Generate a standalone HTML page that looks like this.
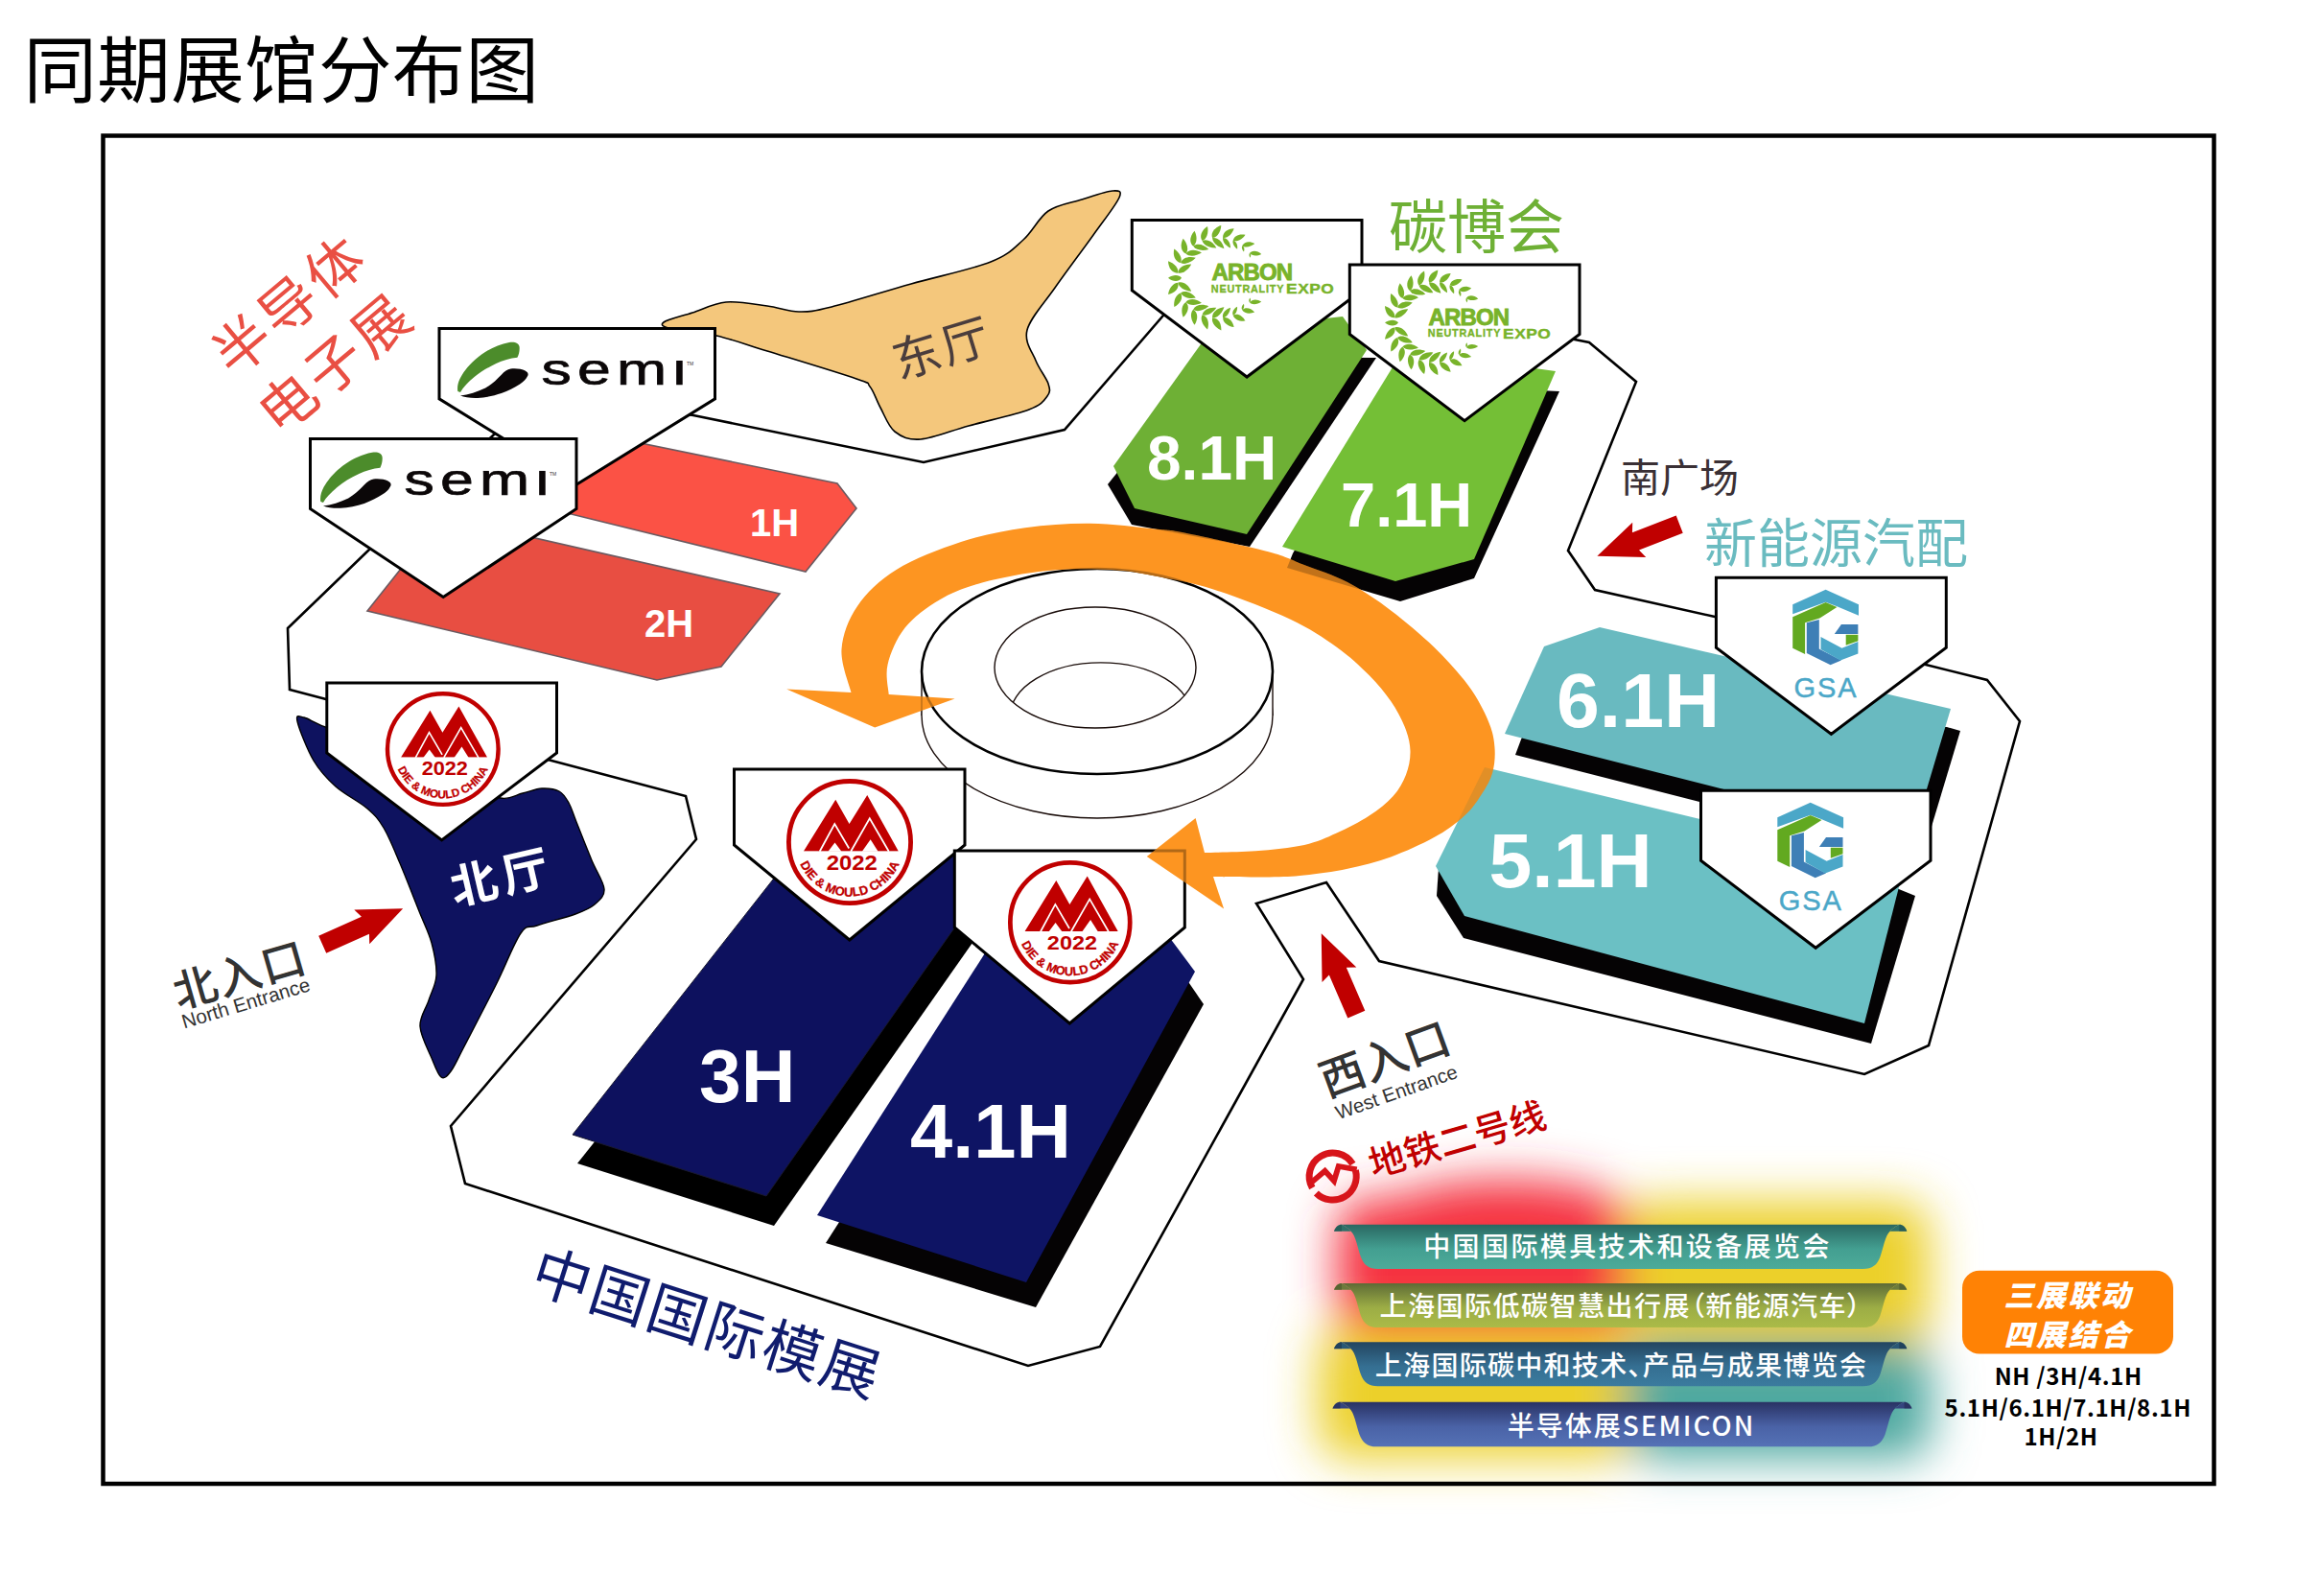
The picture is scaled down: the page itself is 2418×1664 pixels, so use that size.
<!DOCTYPE html>
<html lang="zh-CN"><head><meta charset="utf-8"><title>同期展馆分布图</title>
<style>
html,body{margin:0;padding:0;background:#fff;}
body{width:2418px;height:1664px;overflow:hidden;position:relative;font-family:"Liberation Sans","Noto Sans CJK SC",sans-serif;}
svg{position:absolute;left:0;top:0;display:block}
text{white-space:pre}
.cjk{font-family:"Liberation Sans","Noto Sans CJK SC",sans-serif}
.shs{font-family:"Noto Sans CJK SC","Liberation Sans",sans-serif}
.lat{font-family:"Liberation Sans",sans-serif}
</style></head><body>
<svg width="2418" height="1664" viewBox="0 0 2418 1664">
<defs>
<clipPath id="semiclip"><rect x="95" y="33.3" width="180" height="30"/></clipPath>
<filter id="blur" x="-30%" y="-30%" width="160%" height="160%"><feGaussianBlur stdDeviation="24"/></filter>
<linearGradient id="rb1" x1="0" y1="0" x2="0" y2="1"><stop offset="0" stop-color="#2a6862"/><stop offset="0.55" stop-color="#439f91"/><stop offset="1" stop-color="#4dab99"/></linearGradient>
<linearGradient id="rb2" x1="0" y1="0" x2="0" y2="1"><stop offset="0" stop-color="#5e6b36"/><stop offset="0.55" stop-color="#9cad45"/><stop offset="1" stop-color="#abbb48"/></linearGradient>
<linearGradient id="rb3" x1="0" y1="0" x2="0" y2="1"><stop offset="0" stop-color="#234560"/><stop offset="0.55" stop-color="#356f92"/><stop offset="1" stop-color="#3b7b9e"/></linearGradient>
<linearGradient id="rb4" x1="0" y1="0" x2="0" y2="1"><stop offset="0" stop-color="#293263"/><stop offset="0.55" stop-color="#4a62a6"/><stop offset="1" stop-color="#5572b6"/></linearGradient>
</defs>
<rect width="2418" height="1664" fill="#fff"/>

<text x="24.5" y="101" class="cjk" font-size="76.5" letter-spacing="0.35" fill="#000">同期展馆分布图</text>
<g filter="url(#blur)"><rect x="1394" y="1250" width="310" height="140" rx="30" fill="#f5333f"/><ellipse cx="1570" cy="1262" rx="120" ry="32" fill="#f5333f"/><rect x="1695" y="1252" width="317" height="153" rx="30" fill="#ecd02c"/><rect x="1374" y="1385" width="330" height="136" rx="30" fill="#ecd02c"/><rect x="1695" y="1400" width="319" height="121" rx="30" fill="#4fa9a0"/><rect x="1420" y="1300" width="560" height="190" fill="#e6b040" opacity="0.0"/></g>
<rect x="107.5" y="141.5" width="2201" height="1405.5" fill="none" stroke="#000" stroke-width="4.5"/>
<polygon points="300.0,655.0 385.0,573.0 513.0,455.0 560.0,410.0 723.0,433.0 963.0,482.0 1110.0,448.0 1212.0,330.0 1260.0,275.0 1642.0,354.0 1657.0,357.0 1706.0,398.0 1635.0,574.0 1663.0,615.0 1788.0,643.0 2008.0,693.0 2072.0,709.0 2106.0,752.0 2011.0,1090.0 1944.0,1120.0 1438.0,1002.0 1383.0,920.0 1310.0,942.0 1359.0,1021.0 1147.0,1404.0 1072.0,1424.0 485.0,1234.0 470.0,1174.0 726.0,875.0 715.0,830.0 575.0,793.0 340.0,729.0 302.0,719.0" fill="#fff" stroke="#000" stroke-width="2.6" stroke-linejoin="miter"/>
<path d="M692.0,336.0 C695.7,333.2 711.2,329.5 722.0,326.0 C732.8,322.5 744.0,316.2 757.0,315.0 C770.0,313.8 787.3,317.3 800.0,319.0 C812.7,320.7 821.8,324.8 833.0,325.0 C844.2,325.2 847.5,324.8 867.0,320.0 C886.5,315.2 922.3,303.8 950.0,296.0 C977.7,288.2 1013.5,280.7 1033.0,273.0 C1052.5,265.3 1057.0,258.8 1067.0,250.0 C1077.0,241.2 1082.8,227.0 1093.0,220.0 C1103.2,213.0 1116.8,211.5 1128.0,208.0 C1139.2,204.5 1153.5,199.3 1160.0,199.0 C1166.5,198.7 1170.3,198.3 1167.0,206.0 C1163.7,213.7 1151.2,229.3 1140.0,245.0 C1128.8,260.7 1111.5,283.5 1100.0,300.0 C1088.5,316.5 1074.3,331.3 1071.0,344.0 C1067.7,356.7 1076.3,366.7 1080.0,376.0 C1083.7,385.3 1091.0,393.8 1093.0,400.0 C1095.0,406.2 1095.3,408.5 1092.0,413.0 C1088.7,417.5 1086.7,421.8 1073.0,427.0 C1059.3,432.2 1028.8,438.8 1010.0,444.0 C991.2,449.2 972.8,457.0 960.0,458.0 C947.2,459.0 940.0,455.5 933.0,450.0 C926.0,444.5 922.3,432.8 918.0,425.0 C913.7,417.2 911.2,408.0 907.0,403.0 C902.8,398.0 910.8,401.2 893.0,395.0 C875.2,388.8 824.3,373.5 800.0,366.0 C775.7,358.5 763.7,353.8 747.0,350.0 C730.3,346.2 709.2,345.3 700.0,343.0 C690.8,340.7 688.3,338.8 692.0,336.0Z" fill="#f4c77c" stroke="#000" stroke-width="1.6"/>
<text transform="translate(983,364) rotate(-17)" class="cjk" font-size="50" letter-spacing="3" text-anchor="middle" dominant-baseline="central" fill="#4a3d3d">东厅</text>
<polygon points="580.0,444.0 873.0,504.0 893.0,530.0 840.0,596.0 575.0,531.0" fill="#fb5245" stroke="#6b5a60" stroke-width="1.6"/>
<polygon points="461.0,539.0 813.0,619.0 752.0,695.0 685.0,709.0 383.0,637.0" fill="#e84e42" stroke="#6b5a60" stroke-width="1.6"/>
<text x="782" y="558.5" class="lat" font-weight="bold" font-size="40" fill="#fff">1H</text>
<text x="672" y="663.5" class="lat" font-weight="bold" font-size="40" fill="#fff">2H</text>
<polygon points="1262.0,372.0 1435.0,373.0 1303.0,570.0 1180.0,547.0 1155.0,505.0" fill="#050304"/>
<polygon points="1262.0,345.0 1400.0,330.0 1425.0,365.0 1300.0,557.0 1183.0,530.0 1161.0,486.0" fill="#6eb035"/>
<polygon points="1450.0,400.0 1626.0,408.0 1537.0,603.0 1460.0,627.0 1342.0,592.0 1348.0,577.0" fill="#050304"/>
<polygon points="1463.0,365.0 1622.0,387.0 1537.0,583.0 1455.0,606.0 1337.0,570.0" fill="#74bf36"/>
<text x="1196" y="500" class="lat" font-weight="bold" font-size="64" fill="#fff">8.1H</text>
<text x="1398" y="549" class="lat" font-weight="bold" font-size="65" fill="#fff">7.1H</text>
<polygon points="1600.0,740.0 2030.0,758.0 2044.0,762.0 2004.0,895.0 1580.0,787.0 1586.0,771.0" fill="#050304"/>
<polygon points="1610.0,674.0 1668.0,654.0 2034.0,739.0 1994.0,873.0 1569.0,765.0" fill="#69bac0"/>
<polygon points="1500.0,905.0 1975.0,925.0 1997.0,934.0 1951.0,1088.0 1526.0,978.0 1498.0,934.0" fill="#050304"/>
<polygon points="1548.0,800.0 1985.0,905.0 1944.0,1067.0 1527.0,955.0 1497.0,903.0" fill="#6bc0c4"/>
<text x="1623" y="758" class="lat" font-weight="bold" font-size="80.5" fill="#fff">6.1H</text>
<text x="1552.5" y="925" class="lat" font-weight="bold" font-size="80.5" fill="#fff">5.1H</text>
<path d="M310.0,752.0 C308.3,744.5 311.2,746.7 317.0,748.0 C322.8,749.3 327.8,754.7 345.0,760.0 C362.2,765.3 395.8,770.8 420.0,780.0 C444.2,789.2 473.0,806.3 490.0,815.0 C507.0,823.7 512.8,830.0 522.0,832.0 C531.2,834.0 537.8,828.7 545.0,827.0 C552.2,825.3 558.7,822.3 565.0,822.0 C571.3,821.7 578.3,822.5 583.0,825.0 C587.7,827.5 590.0,831.7 593.0,837.0 C596.0,842.3 597.0,847.0 601.0,857.0 C605.0,867.0 612.2,885.3 617.0,897.0 C621.8,908.7 629.5,919.3 630.0,927.0 C630.5,934.7 625.0,938.7 620.0,943.0 C615.0,947.3 610.0,949.3 600.0,953.0 C590.0,956.7 569.5,961.7 560.0,965.0 C550.5,968.3 550.2,962.7 543.0,973.0 C535.8,983.3 527.0,1007.0 517.0,1027.0 C507.0,1047.0 490.8,1078.0 483.0,1093.0 C475.2,1108.0 473.8,1112.0 470.0,1117.0 C466.2,1122.0 463.3,1125.3 460.0,1123.0 C456.7,1120.7 453.7,1111.8 450.0,1103.0 C446.3,1094.2 438.5,1080.0 438.0,1070.0 C437.5,1060.0 444.2,1051.8 447.0,1043.0 C449.8,1034.2 454.5,1027.0 455.0,1017.0 C455.5,1007.0 453.0,994.2 450.0,983.0 C447.0,971.8 442.5,963.8 437.0,950.0 C431.5,936.2 423.2,914.5 417.0,900.0 C410.8,885.5 405.7,872.5 400.0,863.0 C394.3,853.5 391.3,850.2 383.0,843.0 C374.7,835.8 359.3,828.3 350.0,820.0 C340.7,811.7 333.7,804.3 327.0,793.0 C320.3,781.7 311.7,759.5 310.0,752.0Z" fill="#0e125f" stroke="#000" stroke-width="1.4"/>
<text transform="translate(524,915) rotate(-13)" class="cjk" font-weight="bold" font-size="49" letter-spacing="6" text-anchor="middle" dominant-baseline="central" fill="#fff">北厅</text>
<polygon points="842.0,911.0 1056.0,923.0 807.0,1278.0 602.0,1213.0" fill="#000"/>
<polygon points="835.0,880.0 1048.0,892.0 799.0,1247.0 597.0,1183.0" fill="#0d115e" stroke="#1a1a30" stroke-width="1"/>
<polygon points="1064.0,979.0 1214.0,987.0 1255.0,1047.0 1080.0,1363.0 861.0,1296.0" fill="#050304"/>
<polygon points="1055.0,950.0 1205.0,958.0 1246.0,1013.0 1070.0,1337.0 852.0,1267.0" fill="#0e1464"/>
<text x="729" y="1148.5" class="lat" font-weight="bold" font-size="78.5" fill="#fff">3H</text>
<text x="949" y="1207" class="lat" font-weight="bold" font-size="79.5" fill="#fff">4.1H</text>
<ellipse cx="1144" cy="746" rx="183" ry="107" fill="#fff" stroke="#1a0d0a" stroke-width="1.4"/>
<rect x="961" y="700" width="366" height="46" fill="#fff"/>
<line x1="961" y1="700" x2="961" y2="746" stroke="#1a0d0a" stroke-width="1.4"/><line x1="1327" y1="700" x2="1327" y2="746" stroke="#1a0d0a" stroke-width="1.4"/>
<ellipse cx="1144" cy="700" rx="183" ry="107" fill="#fff" stroke="#000" stroke-width="2.6"/>
<clipPath id="hole"><ellipse cx="1142" cy="696" rx="105" ry="63"/></clipPath>
<ellipse cx="1147.8" cy="747.4" rx="94.9" ry="56.5" fill="none" stroke="#1a0d0a" stroke-width="1.4" clip-path="url(#hole)"/>
<ellipse cx="1142" cy="696" rx="105" ry="63" fill="none" stroke="#1a0d0a" stroke-width="1.4"/>
<polygon points="458.0,342.6 745.5,342.6 745.5,415.8 601.8,504.8 458.0,415.8" fill="#fff" stroke="#000" stroke-width="3" stroke-linejoin="miter"/>
<g transform="translate(458,342.6)"><path d="M19.3,65.4 C18,58 22,50 27.5,43 C35,33 52,18 73,14.3 C79,13.5 83,15 83.6,19 C84,23 83,27 81.4,30.2 C74,31 66,33 59.3,36.5 C50,41 43,45 37.2,50 C30,56 25,61 22,66.5 Z" fill="#4c8c2b"/><path d="M22,69.9 C30,69 40,66 48.2,61.9 C55,58 60,53 64.8,48.1 C68,44.5 71,42.5 74.5,41.9 C80,41.3 86,42 89.6,44 C92.5,45.5 93,47.5 92.4,49 C90.5,53 88,55.5 84.1,57.8 C78,61.5 72,65 64.8,67.4 C57,70 48,72 40,72.3 C33,72.5 26,71.8 22,69.9 Z" fill="#0b0708"/><g clip-path="url(#semiclip)"><text transform="translate(106.5,58.8) scale(1.36,1)" font-family="'Liberation Sans',sans-serif" font-size="46" letter-spacing="4.6" fill="#0b0708" stroke="#0b0708" stroke-width="0.7">semi</text></g><text x="258" y="38" font-family="'Liberation Sans',sans-serif" font-size="5" fill="#333">TM</text></g>
<polygon points="323.5,457.5 601.0,457.5 601.0,530.5 462.2,622.5 323.5,530.5" fill="#fff" stroke="#000" stroke-width="3" stroke-linejoin="miter"/>
<g transform="translate(315.0,457.5)"><path d="M19.3,65.4 C18,58 22,50 27.5,43 C35,33 52,18 73,14.3 C79,13.5 83,15 83.6,19 C84,23 83,27 81.4,30.2 C74,31 66,33 59.3,36.5 C50,41 43,45 37.2,50 C30,56 25,61 22,66.5 Z" fill="#4c8c2b"/><path d="M22,69.9 C30,69 40,66 48.2,61.9 C55,58 60,53 64.8,48.1 C68,44.5 71,42.5 74.5,41.9 C80,41.3 86,42 89.6,44 C92.5,45.5 93,47.5 92.4,49 C90.5,53 88,55.5 84.1,57.8 C78,61.5 72,65 64.8,67.4 C57,70 48,72 40,72.3 C33,72.5 26,71.8 22,69.9 Z" fill="#0b0708"/><g clip-path="url(#semiclip)"><text transform="translate(106.5,58.8) scale(1.36,1)" font-family="'Liberation Sans',sans-serif" font-size="46" letter-spacing="4.6" fill="#0b0708" stroke="#0b0708" stroke-width="0.7">semi</text></g><text x="258" y="38" font-family="'Liberation Sans',sans-serif" font-size="5" fill="#333">TM</text></g>
<polygon points="1180.3,229.4 1420.0,229.4 1420.0,302.8 1300.1,393.0 1180.3,302.8" fill="#fff" stroke="#000" stroke-width="3" stroke-linejoin="miter"/>
<g transform="translate(1180.3,229.4)"><g fill="#78b32a"><path transform="translate(48.01,55.18) rotate(-130.0)" d="M0,0 C3.20,-4.80 10.40,-4.48 16.00,0 C10.40,3.52 3.20,3.84 0,0Z"/><path transform="translate(48.01,55.18) rotate(-33.0)" d="M0,0 C3.30,-4.50 10.72,-4.20 16.50,0 C10.72,3.30 3.30,3.60 0,0Z"/><path transform="translate(50.76,44.57) rotate(-115.0)" d="M0,0 C3.20,-4.80 10.40,-4.48 16.00,0 C10.40,3.52 3.20,3.84 0,0Z"/><path transform="translate(50.76,44.57) rotate(-18.0)" d="M0,0 C3.30,-4.50 10.72,-4.20 16.50,0 C10.72,3.30 3.30,3.60 0,0Z"/><path transform="translate(56.16,35.02) rotate(-100.0)" d="M0,0 C3.20,-4.80 10.40,-4.48 16.00,0 C10.40,3.52 3.20,3.84 0,0Z"/><path transform="translate(56.16,35.02) rotate(-3.0)" d="M0,0 C3.30,-4.50 10.72,-4.20 16.50,0 C10.72,3.30 3.30,3.60 0,0Z"/><path transform="translate(63.84,27.20) rotate(-85.0)" d="M0,0 C3.20,-4.80 10.40,-4.48 16.00,0 C10.40,3.52 3.20,3.84 0,0Z"/><path transform="translate(63.84,27.20) rotate(12.0)" d="M0,0 C3.30,-4.50 10.72,-4.20 16.50,0 C10.72,3.30 3.30,3.60 0,0Z"/><path transform="translate(73.29,21.64) rotate(-70.0)" d="M0,0 C3.20,-4.80 10.40,-4.48 16.00,0 C10.40,3.52 3.20,3.84 0,0Z"/><path transform="translate(73.29,21.64) rotate(27.0)" d="M0,0 C3.30,-4.50 10.72,-4.20 16.50,0 C10.72,3.30 3.30,3.60 0,0Z"/><path transform="translate(83.85,18.71) rotate(-55.0)" d="M0,0 C3.20,-4.80 10.40,-4.48 16.00,0 C10.40,3.52 3.20,3.84 0,0Z"/><path transform="translate(83.85,18.71) rotate(42.0)" d="M0,0 C3.30,-4.50 10.72,-4.20 16.50,0 C10.72,3.30 3.30,3.60 0,0Z"/><path transform="translate(94.82,18.61) rotate(-40.0)" d="M0,0 C3.01,-4.51 9.78,-4.21 15.04,0 C9.78,3.31 3.01,3.61 0,0Z"/><path transform="translate(94.82,18.61) rotate(53.0)" d="M0,0 C2.64,-3.60 8.58,-3.36 13.20,0 C8.58,2.64 2.64,2.88 0,0Z"/><path transform="translate(105.43,21.36) rotate(-25.0)" d="M0,0 C2.82,-4.22 9.15,-3.94 14.08,0 C9.15,3.10 2.82,3.38 0,0Z"/><path transform="translate(105.43,21.36) rotate(64.0)" d="M0,0 C1.98,-2.70 6.44,-2.52 9.90,0 C6.44,1.98 1.98,2.16 0,0Z"/><path transform="translate(114.98,26.76) rotate(-10.0)" d="M0,0 C2.62,-3.94 8.53,-3.67 13.12,0 C8.53,2.89 2.62,3.15 0,0Z"/><path transform="translate(114.98,26.76) rotate(75.0)" d="M0,0 C1.32,-1.80 4.29,-1.68 6.60,0 C4.29,1.32 1.32,1.44 0,0Z"/><path transform="translate(122.80,34.44) rotate(5.0)" d="M0,0 C2.43,-3.65 7.90,-3.40 12.16,0 C7.90,2.68 2.43,2.92 0,0Z"/><path transform="translate(122.80,34.44) rotate(86.0)" d="M0,0 C0.99,-1.35 3.22,-1.26 4.95,0 C3.22,0.99 0.99,1.08 0,0Z"/><path transform="translate(48.01,65.42) rotate(-230.0)" d="M0,0 C3.20,-4.80 10.40,-4.48 16.00,0 C10.40,3.52 3.20,3.84 0,0Z"/><path transform="translate(48.01,65.42) rotate(-327.0)" d="M0,0 C3.30,-4.50 10.72,-4.20 16.50,0 C10.72,3.30 3.30,3.60 0,0Z"/><path transform="translate(50.76,76.03) rotate(-245.0)" d="M0,0 C3.20,-4.80 10.40,-4.48 16.00,0 C10.40,3.52 3.20,3.84 0,0Z"/><path transform="translate(50.76,76.03) rotate(-342.0)" d="M0,0 C3.30,-4.50 10.72,-4.20 16.50,0 C10.72,3.30 3.30,3.60 0,0Z"/><path transform="translate(56.16,85.58) rotate(-260.0)" d="M0,0 C3.20,-4.80 10.40,-4.48 16.00,0 C10.40,3.52 3.20,3.84 0,0Z"/><path transform="translate(56.16,85.58) rotate(-357.0)" d="M0,0 C3.30,-4.50 10.72,-4.20 16.50,0 C10.72,3.30 3.30,3.60 0,0Z"/><path transform="translate(63.84,93.40) rotate(-275.0)" d="M0,0 C3.20,-4.80 10.40,-4.48 16.00,0 C10.40,3.52 3.20,3.84 0,0Z"/><path transform="translate(63.84,93.40) rotate(-372.0)" d="M0,0 C3.30,-4.50 10.72,-4.20 16.50,0 C10.72,3.30 3.30,3.60 0,0Z"/><path transform="translate(73.29,98.96) rotate(-290.0)" d="M0,0 C3.20,-4.80 10.40,-4.48 16.00,0 C10.40,3.52 3.20,3.84 0,0Z"/><path transform="translate(73.29,98.96) rotate(-387.0)" d="M0,0 C3.30,-4.50 10.72,-4.20 16.50,0 C10.72,3.30 3.30,3.60 0,0Z"/><path transform="translate(83.85,101.89) rotate(-305.0)" d="M0,0 C3.20,-4.80 10.40,-4.48 16.00,0 C10.40,3.52 3.20,3.84 0,0Z"/><path transform="translate(83.85,101.89) rotate(-402.0)" d="M0,0 C3.30,-4.50 10.72,-4.20 16.50,0 C10.72,3.30 3.30,3.60 0,0Z"/><path transform="translate(94.82,101.99) rotate(-320.0)" d="M0,0 C3.01,-4.51 9.78,-4.21 15.04,0 C9.78,3.31 3.01,3.61 0,0Z"/><path transform="translate(94.82,101.99) rotate(-413.0)" d="M0,0 C2.64,-3.60 8.58,-3.36 13.20,0 C8.58,2.64 2.64,2.88 0,0Z"/><path transform="translate(105.43,99.24) rotate(-335.0)" d="M0,0 C2.82,-4.22 9.15,-3.94 14.08,0 C9.15,3.10 2.82,3.38 0,0Z"/><path transform="translate(105.43,99.24) rotate(-424.0)" d="M0,0 C1.98,-2.70 6.44,-2.52 9.90,0 C6.44,1.98 1.98,2.16 0,0Z"/><path transform="translate(114.98,93.84) rotate(-350.0)" d="M0,0 C2.62,-3.94 8.53,-3.67 13.12,0 C8.53,2.89 2.62,3.15 0,0Z"/><path transform="translate(114.98,93.84) rotate(-435.0)" d="M0,0 C1.32,-1.80 4.29,-1.68 6.60,0 C4.29,1.32 1.32,1.44 0,0Z"/><path transform="translate(122.80,86.16) rotate(-365.0)" d="M0,0 C2.43,-3.65 7.90,-3.40 12.16,0 C7.90,2.68 2.43,2.92 0,0Z"/><path transform="translate(122.80,86.16) rotate(-446.0)" d="M0,0 C0.99,-1.35 3.22,-1.26 4.95,0 C3.22,0.99 0.99,1.08 0,0Z"/><path transform="translate(51.70,60.30) rotate(180.0)" d="M0,0 C2.80,-4.50 9.10,-4.20 14.00,0 C9.10,3.30 2.80,3.60 0,0Z"/></g><text x="83.3" y="63" font-family="'Liberation Sans',sans-serif" font-weight="bold" fill="#78b32a" stroke="#78b32a" font-size="24" letter-spacing="-0.9" stroke-width="0.9">ARBON</text><text x="82.5" y="75.2" font-family="'Liberation Sans',sans-serif" font-weight="bold" fill="#78b32a" stroke="#78b32a" font-size="10.8" letter-spacing="0.8" stroke-width="0.35">NEUTRALITY</text><text transform="translate(160.8,76.6) scale(1.22,1)" font-family="'Liberation Sans',sans-serif" font-weight="bold" fill="#78b32a" stroke="#78b32a" font-size="14.2" letter-spacing="0.4" stroke-width="0.4">EXPO</text></g>
<polygon points="1407.3,276.0 1647.0,276.0 1647.0,348.5 1527.1,438.7 1407.3,348.5" fill="#fff" stroke="#000" stroke-width="3" stroke-linejoin="miter"/>
<g transform="translate(1406.3,276)"><g fill="#78b32a"><path transform="translate(48.01,55.18) rotate(-130.0)" d="M0,0 C3.20,-4.80 10.40,-4.48 16.00,0 C10.40,3.52 3.20,3.84 0,0Z"/><path transform="translate(48.01,55.18) rotate(-33.0)" d="M0,0 C3.30,-4.50 10.72,-4.20 16.50,0 C10.72,3.30 3.30,3.60 0,0Z"/><path transform="translate(50.76,44.57) rotate(-115.0)" d="M0,0 C3.20,-4.80 10.40,-4.48 16.00,0 C10.40,3.52 3.20,3.84 0,0Z"/><path transform="translate(50.76,44.57) rotate(-18.0)" d="M0,0 C3.30,-4.50 10.72,-4.20 16.50,0 C10.72,3.30 3.30,3.60 0,0Z"/><path transform="translate(56.16,35.02) rotate(-100.0)" d="M0,0 C3.20,-4.80 10.40,-4.48 16.00,0 C10.40,3.52 3.20,3.84 0,0Z"/><path transform="translate(56.16,35.02) rotate(-3.0)" d="M0,0 C3.30,-4.50 10.72,-4.20 16.50,0 C10.72,3.30 3.30,3.60 0,0Z"/><path transform="translate(63.84,27.20) rotate(-85.0)" d="M0,0 C3.20,-4.80 10.40,-4.48 16.00,0 C10.40,3.52 3.20,3.84 0,0Z"/><path transform="translate(63.84,27.20) rotate(12.0)" d="M0,0 C3.30,-4.50 10.72,-4.20 16.50,0 C10.72,3.30 3.30,3.60 0,0Z"/><path transform="translate(73.29,21.64) rotate(-70.0)" d="M0,0 C3.20,-4.80 10.40,-4.48 16.00,0 C10.40,3.52 3.20,3.84 0,0Z"/><path transform="translate(73.29,21.64) rotate(27.0)" d="M0,0 C3.30,-4.50 10.72,-4.20 16.50,0 C10.72,3.30 3.30,3.60 0,0Z"/><path transform="translate(83.85,18.71) rotate(-55.0)" d="M0,0 C3.20,-4.80 10.40,-4.48 16.00,0 C10.40,3.52 3.20,3.84 0,0Z"/><path transform="translate(83.85,18.71) rotate(42.0)" d="M0,0 C3.30,-4.50 10.72,-4.20 16.50,0 C10.72,3.30 3.30,3.60 0,0Z"/><path transform="translate(94.82,18.61) rotate(-40.0)" d="M0,0 C3.01,-4.51 9.78,-4.21 15.04,0 C9.78,3.31 3.01,3.61 0,0Z"/><path transform="translate(94.82,18.61) rotate(53.0)" d="M0,0 C2.64,-3.60 8.58,-3.36 13.20,0 C8.58,2.64 2.64,2.88 0,0Z"/><path transform="translate(105.43,21.36) rotate(-25.0)" d="M0,0 C2.82,-4.22 9.15,-3.94 14.08,0 C9.15,3.10 2.82,3.38 0,0Z"/><path transform="translate(105.43,21.36) rotate(64.0)" d="M0,0 C1.98,-2.70 6.44,-2.52 9.90,0 C6.44,1.98 1.98,2.16 0,0Z"/><path transform="translate(114.98,26.76) rotate(-10.0)" d="M0,0 C2.62,-3.94 8.53,-3.67 13.12,0 C8.53,2.89 2.62,3.15 0,0Z"/><path transform="translate(114.98,26.76) rotate(75.0)" d="M0,0 C1.32,-1.80 4.29,-1.68 6.60,0 C4.29,1.32 1.32,1.44 0,0Z"/><path transform="translate(122.80,34.44) rotate(5.0)" d="M0,0 C2.43,-3.65 7.90,-3.40 12.16,0 C7.90,2.68 2.43,2.92 0,0Z"/><path transform="translate(122.80,34.44) rotate(86.0)" d="M0,0 C0.99,-1.35 3.22,-1.26 4.95,0 C3.22,0.99 0.99,1.08 0,0Z"/><path transform="translate(48.01,65.42) rotate(-230.0)" d="M0,0 C3.20,-4.80 10.40,-4.48 16.00,0 C10.40,3.52 3.20,3.84 0,0Z"/><path transform="translate(48.01,65.42) rotate(-327.0)" d="M0,0 C3.30,-4.50 10.72,-4.20 16.50,0 C10.72,3.30 3.30,3.60 0,0Z"/><path transform="translate(50.76,76.03) rotate(-245.0)" d="M0,0 C3.20,-4.80 10.40,-4.48 16.00,0 C10.40,3.52 3.20,3.84 0,0Z"/><path transform="translate(50.76,76.03) rotate(-342.0)" d="M0,0 C3.30,-4.50 10.72,-4.20 16.50,0 C10.72,3.30 3.30,3.60 0,0Z"/><path transform="translate(56.16,85.58) rotate(-260.0)" d="M0,0 C3.20,-4.80 10.40,-4.48 16.00,0 C10.40,3.52 3.20,3.84 0,0Z"/><path transform="translate(56.16,85.58) rotate(-357.0)" d="M0,0 C3.30,-4.50 10.72,-4.20 16.50,0 C10.72,3.30 3.30,3.60 0,0Z"/><path transform="translate(63.84,93.40) rotate(-275.0)" d="M0,0 C3.20,-4.80 10.40,-4.48 16.00,0 C10.40,3.52 3.20,3.84 0,0Z"/><path transform="translate(63.84,93.40) rotate(-372.0)" d="M0,0 C3.30,-4.50 10.72,-4.20 16.50,0 C10.72,3.30 3.30,3.60 0,0Z"/><path transform="translate(73.29,98.96) rotate(-290.0)" d="M0,0 C3.20,-4.80 10.40,-4.48 16.00,0 C10.40,3.52 3.20,3.84 0,0Z"/><path transform="translate(73.29,98.96) rotate(-387.0)" d="M0,0 C3.30,-4.50 10.72,-4.20 16.50,0 C10.72,3.30 3.30,3.60 0,0Z"/><path transform="translate(83.85,101.89) rotate(-305.0)" d="M0,0 C3.20,-4.80 10.40,-4.48 16.00,0 C10.40,3.52 3.20,3.84 0,0Z"/><path transform="translate(83.85,101.89) rotate(-402.0)" d="M0,0 C3.30,-4.50 10.72,-4.20 16.50,0 C10.72,3.30 3.30,3.60 0,0Z"/><path transform="translate(94.82,101.99) rotate(-320.0)" d="M0,0 C3.01,-4.51 9.78,-4.21 15.04,0 C9.78,3.31 3.01,3.61 0,0Z"/><path transform="translate(94.82,101.99) rotate(-413.0)" d="M0,0 C2.64,-3.60 8.58,-3.36 13.20,0 C8.58,2.64 2.64,2.88 0,0Z"/><path transform="translate(105.43,99.24) rotate(-335.0)" d="M0,0 C2.82,-4.22 9.15,-3.94 14.08,0 C9.15,3.10 2.82,3.38 0,0Z"/><path transform="translate(105.43,99.24) rotate(-424.0)" d="M0,0 C1.98,-2.70 6.44,-2.52 9.90,0 C6.44,1.98 1.98,2.16 0,0Z"/><path transform="translate(114.98,93.84) rotate(-350.0)" d="M0,0 C2.62,-3.94 8.53,-3.67 13.12,0 C8.53,2.89 2.62,3.15 0,0Z"/><path transform="translate(114.98,93.84) rotate(-435.0)" d="M0,0 C1.32,-1.80 4.29,-1.68 6.60,0 C4.29,1.32 1.32,1.44 0,0Z"/><path transform="translate(122.80,86.16) rotate(-365.0)" d="M0,0 C2.43,-3.65 7.90,-3.40 12.16,0 C7.90,2.68 2.43,2.92 0,0Z"/><path transform="translate(122.80,86.16) rotate(-446.0)" d="M0,0 C0.99,-1.35 3.22,-1.26 4.95,0 C3.22,0.99 0.99,1.08 0,0Z"/><path transform="translate(51.70,60.30) rotate(180.0)" d="M0,0 C2.80,-4.50 9.10,-4.20 14.00,0 C9.10,3.30 2.80,3.60 0,0Z"/></g><text x="83.3" y="63" font-family="'Liberation Sans',sans-serif" font-weight="bold" fill="#78b32a" stroke="#78b32a" font-size="24" letter-spacing="-0.9" stroke-width="0.9">ARBON</text><text x="82.5" y="75.2" font-family="'Liberation Sans',sans-serif" font-weight="bold" fill="#78b32a" stroke="#78b32a" font-size="10.8" letter-spacing="0.8" stroke-width="0.35">NEUTRALITY</text><text transform="translate(160.8,76.6) scale(1.22,1)" font-family="'Liberation Sans',sans-serif" font-weight="bold" fill="#78b32a" stroke="#78b32a" font-size="14.2" letter-spacing="0.4" stroke-width="0.4">EXPO</text></g>
<polygon points="1789.4,602.3 2029.3,602.3 2029.3,675.3 1909.4,765.3 1789.4,675.3" fill="#fff" stroke="#000" stroke-width="3" stroke-linejoin="miter"/>
<g transform="translate(1789.4,602.3)"><polygon points="79.8,27.9 114.2,12.5 148.6,27.9 148.6,39.5 126.0,29.9 114.2,25.4 79.8,38.0" fill="#4ba7c8"/><polygon points="79.8,40.9 114.2,25.6 126.0,30.6 108.0,42.3 92.7,47.0 92.7,79.8 79.8,73.4" fill="#62a920"/><polygon points="94.4,47.0 107.4,43.7 107.4,74.1 130.5,86.3 119.2,91.0 94.4,78.6" fill="#3e7fb6"/><polygon points="109.1,61.7 131.1,73.4 148.0,66.7 148.0,79.1 129.6,86.1 109.1,74.6" fill="#4ba7c8"/><polygon points="130.5,48.8 148.0,48.8 148.0,58.7 123.4,58.7" fill="#3e7fb6"/><polygon points="135.3,59.4 148.0,59.4 148.0,66.0 135.3,70.5" fill="#62a920"/><text x="114.7" y="125.2" text-anchor="middle" font-family="'Liberation Sans',sans-serif" font-size="29" letter-spacing="1.9" fill="#4ba7c8" stroke="#4ba7c8" stroke-width="0.45">GSA</text></g>
<polygon points="1773.5,824.3 2013.0,824.3 2013.0,897.3 1893.2,988.3 1773.5,897.3" fill="#fff" stroke="#000" stroke-width="3" stroke-linejoin="miter"/>
<g transform="translate(1773.5,824.3)"><polygon points="79.8,27.9 114.2,12.5 148.6,27.9 148.6,39.5 126.0,29.9 114.2,25.4 79.8,38.0" fill="#4ba7c8"/><polygon points="79.8,40.9 114.2,25.6 126.0,30.6 108.0,42.3 92.7,47.0 92.7,79.8 79.8,73.4" fill="#62a920"/><polygon points="94.4,47.0 107.4,43.7 107.4,74.1 130.5,86.3 119.2,91.0 94.4,78.6" fill="#3e7fb6"/><polygon points="109.1,61.7 131.1,73.4 148.0,66.7 148.0,79.1 129.6,86.1 109.1,74.6" fill="#4ba7c8"/><polygon points="130.5,48.8 148.0,48.8 148.0,58.7 123.4,58.7" fill="#3e7fb6"/><polygon points="135.3,59.4 148.0,59.4 148.0,66.0 135.3,70.5" fill="#62a920"/><text x="114.7" y="125.2" text-anchor="middle" font-family="'Liberation Sans',sans-serif" font-size="29" letter-spacing="1.9" fill="#4ba7c8" stroke="#4ba7c8" stroke-width="0.45">GSA</text></g>
<polygon points="340.8,712.1 580.5,712.1 580.5,784.9 460.6,875.9 340.8,784.9" fill="#fff" stroke="#000" stroke-width="3" stroke-linejoin="miter"/>
<g transform="translate(340.8,712.1) scale(1.0)"><circle cx="121.0" cy="69.0" r="57.8" fill="#fff" stroke="#c00000" stroke-width="4.4"/><polygon points="77.3,77.5 107.6,28.6 120.6,51.6 137.6,24.4 167.2,77.5" fill="#c00000"/><polyline points="92.5,77.8 106.7,51.6 120.3,74.8" fill="none" stroke="#fff" stroke-width="1.6"/><polyline points="122.0,77.8 139.9,46.5 158.1,77.8" fill="none" stroke="#fff" stroke-width="1.6"/><polygon points="100.5,77.8 106.9,69.3 113.2,77.8" fill="#fff"/><polygon points="132.7,77.8 140.7,66.5 147.9,77.8" fill="#fff"/><rect x="74.8" y="77.7" width="95" height="3" fill="#fff"/><text transform="translate(123,95.6) scale(1.12,1)" text-anchor="middle" font-family="'Liberation Sans',sans-serif" font-weight="bold" font-size="19.4" fill="#c00000">2022</text><path id="mp1" d="M72.79,86.55 A51.3,51.3 0 0 0 169.21,86.55" fill="none"/><text font-family="'Liberation Sans',sans-serif" font-weight="bold" font-size="11.8" fill="#c00000" stroke="#c00000" stroke-width="0.25" text-anchor="middle"><textPath href="#mp1" startOffset="50%">DIE &amp; MOULD CHINA</textPath></text></g>
<polygon points="765.5,802.0 1006.0,802.0 1006.0,881.0 885.8,980.0 765.5,881.0" fill="#fff" stroke="#000" stroke-width="3" stroke-linejoin="miter"/>
<g transform="translate(752.9,802.2) scale(1.1)"><circle cx="121.0" cy="69.0" r="57.8" fill="#fff" stroke="#c00000" stroke-width="4.4"/><polygon points="77.3,77.5 107.6,28.6 120.6,51.6 137.6,24.4 167.2,77.5" fill="#c00000"/><polyline points="92.5,77.8 106.7,51.6 120.3,74.8" fill="none" stroke="#fff" stroke-width="1.6"/><polyline points="122.0,77.8 139.9,46.5 158.1,77.8" fill="none" stroke="#fff" stroke-width="1.6"/><polygon points="100.5,77.8 106.9,69.3 113.2,77.8" fill="#fff"/><polygon points="132.7,77.8 140.7,66.5 147.9,77.8" fill="#fff"/><rect x="74.8" y="77.7" width="95" height="3" fill="#fff"/><text transform="translate(123,95.6) scale(1.12,1)" text-anchor="middle" font-family="'Liberation Sans',sans-serif" font-weight="bold" font-size="19.4" fill="#c00000">2022</text><path id="mp2" d="M72.79,86.55 A51.3,51.3 0 0 0 169.21,86.55" fill="none"/><text font-family="'Liberation Sans',sans-serif" font-weight="bold" font-size="11.8" fill="#c00000" stroke="#c00000" stroke-width="0.25" text-anchor="middle"><textPath href="#mp2" startOffset="50%">DIE &amp; MOULD CHINA</textPath></text></g>
<polygon points="995.3,887.0 1235.3,887.0 1235.3,967.0 1115.3,1067.0 995.3,967.0" fill="#fff" stroke="#000" stroke-width="3" stroke-linejoin="miter"/>
<g transform="translate(985.0999999999999,887.2) scale(1.08)"><circle cx="121.0" cy="69.0" r="57.8" fill="#fff" stroke="#c00000" stroke-width="4.4"/><polygon points="77.3,77.5 107.6,28.6 120.6,51.6 137.6,24.4 167.2,77.5" fill="#c00000"/><polyline points="92.5,77.8 106.7,51.6 120.3,74.8" fill="none" stroke="#fff" stroke-width="1.6"/><polyline points="122.0,77.8 139.9,46.5 158.1,77.8" fill="none" stroke="#fff" stroke-width="1.6"/><polygon points="100.5,77.8 106.9,69.3 113.2,77.8" fill="#fff"/><polygon points="132.7,77.8 140.7,66.5 147.9,77.8" fill="#fff"/><rect x="74.8" y="77.7" width="95" height="3" fill="#fff"/><text transform="translate(123,95.6) scale(1.12,1)" text-anchor="middle" font-family="'Liberation Sans',sans-serif" font-weight="bold" font-size="19.4" fill="#c00000">2022</text><path id="mp3" d="M72.79,86.55 A51.3,51.3 0 0 0 169.21,86.55" fill="none"/><text font-family="'Liberation Sans',sans-serif" font-weight="bold" font-size="11.8" fill="#c00000" stroke="#c00000" stroke-width="0.25" text-anchor="middle"><textPath href="#mp3" startOffset="50%">DIE &amp; MOULD CHINA</textPath></text></g>
<clipPath id="oclip"><path d="M887.5,722.0 C885.8,714.5 876.4,692.0 877.5,677.0 C878.6,662.0 884.5,645.8 894.0,632.0 C903.5,618.2 916.6,605.2 934.6,594.0 C952.6,582.8 979.6,572.3 1002.0,565.0 C1024.4,557.7 1046.6,553.5 1069.0,550.3 C1091.4,547.1 1114.0,545.6 1136.5,545.8 C1159.0,546.0 1187.4,549.9 1204.0,551.6 C1220.6,553.3 1216.5,551.9 1236.2,555.8 C1256.0,559.7 1301.9,569.7 1322.5,575.2 C1343.1,580.7 1346.2,583.7 1360.0,589.0 C1373.8,594.3 1390.1,599.2 1405.1,607.1 C1420.1,615.0 1435.2,625.1 1450.2,636.4 C1465.2,647.7 1481.8,661.6 1495.3,674.7 C1508.8,687.9 1522.0,702.5 1531.4,715.3 C1540.8,728.1 1547.2,740.9 1551.7,751.4 C1556.2,761.9 1557.7,769.4 1558.4,778.4 C1559.2,787.4 1558.5,797.2 1556.2,805.5 C1554.0,813.8 1549.8,820.5 1544.9,828.0 C1540.0,835.5 1535.2,843.1 1526.9,850.6 C1518.6,858.1 1508.1,866.0 1495.3,873.1 C1482.5,880.2 1465.2,888.0 1450.2,893.4 C1435.2,898.8 1420.1,902.6 1405.1,905.8 C1390.1,909.0 1373.6,911.1 1360.0,912.6 C1346.4,914.1 1339.3,914.3 1323.5,914.5 C1307.7,914.7 1274.8,914.1 1265.0,914.0 L1276.1,947.5 L1195.8,893 L1246.6,852.9 L1256,889 L1256.0,889.0 C1264.8,888.7 1291.8,888.6 1309.1,887.3 C1326.4,886.0 1345.9,884.1 1360.0,881.0 C1374.1,877.9 1382.5,873.7 1393.8,868.6 C1405.1,863.5 1417.8,857.0 1427.6,850.6 C1437.4,844.2 1446.0,837.4 1452.4,830.3 C1458.8,823.1 1463.0,815.6 1466.0,807.7 C1469.0,799.8 1470.7,791.2 1470.5,782.9 C1470.3,774.6 1468.2,766.7 1464.8,758.1 C1461.4,749.5 1456.4,740.1 1450.2,731.1 C1444.0,722.1 1437.0,713.4 1427.6,704.0 C1418.2,694.6 1407.6,684.5 1393.8,674.7 C1380.0,665.0 1366.3,655.5 1345.0,645.5 C1323.7,635.5 1289.5,622.2 1266.0,614.7 C1242.5,607.2 1221.8,604.0 1204.0,600.5 C1186.2,597.0 1177.7,594.9 1159.0,594.0 C1140.3,593.1 1114.5,592.8 1092.0,595.0 C1069.5,597.2 1042.8,602.4 1024.0,607.5 C1005.2,612.6 992.9,617.5 979.5,625.4 C966.1,633.2 952.6,643.4 943.6,654.6 C934.6,665.8 928.4,681.1 925.6,692.7 C922.8,704.3 926.5,718.8 926.7,724.0 L995.6,728.6 L912.2,758.4 L820.2,718.5 Z"/></clipPath>
<path d="M887.5,722.0 C885.8,714.5 876.4,692.0 877.5,677.0 C878.6,662.0 884.5,645.8 894.0,632.0 C903.5,618.2 916.6,605.2 934.6,594.0 C952.6,582.8 979.6,572.3 1002.0,565.0 C1024.4,557.7 1046.6,553.5 1069.0,550.3 C1091.4,547.1 1114.0,545.6 1136.5,545.8 C1159.0,546.0 1187.4,549.9 1204.0,551.6 C1220.6,553.3 1216.5,551.9 1236.2,555.8 C1256.0,559.7 1301.9,569.7 1322.5,575.2 C1343.1,580.7 1346.2,583.7 1360.0,589.0 C1373.8,594.3 1390.1,599.2 1405.1,607.1 C1420.1,615.0 1435.2,625.1 1450.2,636.4 C1465.2,647.7 1481.8,661.6 1495.3,674.7 C1508.8,687.9 1522.0,702.5 1531.4,715.3 C1540.8,728.1 1547.2,740.9 1551.7,751.4 C1556.2,761.9 1557.7,769.4 1558.4,778.4 C1559.2,787.4 1558.5,797.2 1556.2,805.5 C1554.0,813.8 1549.8,820.5 1544.9,828.0 C1540.0,835.5 1535.2,843.1 1526.9,850.6 C1518.6,858.1 1508.1,866.0 1495.3,873.1 C1482.5,880.2 1465.2,888.0 1450.2,893.4 C1435.2,898.8 1420.1,902.6 1405.1,905.8 C1390.1,909.0 1373.6,911.1 1360.0,912.6 C1346.4,914.1 1339.3,914.3 1323.5,914.5 C1307.7,914.7 1274.8,914.1 1265.0,914.0 L1276.1,947.5 L1195.8,893 L1246.6,852.9 L1256,889 L1256.0,889.0 C1264.8,888.7 1291.8,888.6 1309.1,887.3 C1326.4,886.0 1345.9,884.1 1360.0,881.0 C1374.1,877.9 1382.5,873.7 1393.8,868.6 C1405.1,863.5 1417.8,857.0 1427.6,850.6 C1437.4,844.2 1446.0,837.4 1452.4,830.3 C1458.8,823.1 1463.0,815.6 1466.0,807.7 C1469.0,799.8 1470.7,791.2 1470.5,782.9 C1470.3,774.6 1468.2,766.7 1464.8,758.1 C1461.4,749.5 1456.4,740.1 1450.2,731.1 C1444.0,722.1 1437.0,713.4 1427.6,704.0 C1418.2,694.6 1407.6,684.5 1393.8,674.7 C1380.0,665.0 1366.3,655.5 1345.0,645.5 C1323.7,635.5 1289.5,622.2 1266.0,614.7 C1242.5,607.2 1221.8,604.0 1204.0,600.5 C1186.2,597.0 1177.7,594.9 1159.0,594.0 C1140.3,593.1 1114.5,592.8 1092.0,595.0 C1069.5,597.2 1042.8,602.4 1024.0,607.5 C1005.2,612.6 992.9,617.5 979.5,625.4 C966.1,633.2 952.6,643.4 943.6,654.6 C934.6,665.8 928.4,681.1 925.6,692.7 C922.8,704.3 926.5,718.8 926.7,724.0 L995.6,728.6 L912.2,758.4 L820.2,718.5 Z" fill="#fd9521"/>
<g clip-path="url(#oclip)">
<polygon points="1262.0,372.0 1435.0,373.0 1303.0,570.0 1180.0,547.0 1155.0,505.0" fill="#000" opacity="0.23"/>
<polygon points="1450.0,400.0 1626.0,408.0 1537.0,603.0 1460.0,627.0 1342.0,592.0 1348.0,577.0" fill="#000" opacity="0.23"/>
<polygon points="1548.0,800.0 1985.0,905.0 1944.0,1067.0 1527.0,955.0 1497.0,903.0" fill="#3a6a50" opacity="0.14"/>
<polygon points="995.3,887 1235.3,887 1235.3,967 1115.3,1067 995.3,967" fill="none" stroke="#000" stroke-width="3" opacity="0.3"/>
<ellipse cx="1144" cy="700" rx="183" ry="107" fill="none" stroke="#000" stroke-width="2.6" opacity="0.28"/>
<path d="M961,700 L961,746 A183,107 0 0 0 1144,853" fill="none" stroke="#000" stroke-width="1.4" opacity="0.28"/>
</g>
<text class="cjk" font-size="59" letter-spacing="4" fill="#e94f43" text-anchor="middle" dominant-baseline="central" transform="translate(303,319) rotate(-40)">半导体</text>
<text class="cjk" font-size="59" letter-spacing="4" fill="#e94f43" text-anchor="middle" dominant-baseline="central" transform="translate(351,380) rotate(-40)">电子展</text>
<text x="1448" y="259" class="cjk" font-size="61" fill="#6eb035">碳博会</text>
<text x="1690" y="513" class="cjk" font-size="41" fill="#3a3035">南广场</text>
<text x="1777" y="585.5" class="cjk" font-size="55" fill="#6abbc0">新能源汽配</text>
<text class="cjk" font-size="61" letter-spacing="2" fill="#101c6e" text-anchor="middle" dominant-baseline="central" transform="translate(737,1381) rotate(17.6)">中国国际模展</text>
<text class="cjk" font-weight="500" font-size="46" letter-spacing="1.6" fill="#333" transform="translate(186,1052) rotate(-16)">北入口</text>
<text class="lat" font-size="20.6" fill="#333" transform="translate(192,1072.5) rotate(-16.7)">North Entrance</text>
<text class="cjk" font-weight="500" font-size="47" fill="#333" transform="translate(1383.5,1144.5) rotate(-20)">西入口</text>
<text class="lat" font-size="20.4" fill="#333" transform="translate(1395.5,1167.5) rotate(-19.4)">West Entrance</text>
<text class="cjk" font-weight="500" font-size="38" fill="#c00000" transform="translate(1432,1228) rotate(-16.3)">地铁二号线</text>
<polygon transform="translate(336.2,984.7) rotate(-24.1)" points="0.0,-9.8 49.0,-9.8 45.0,-19.5 92.0,0.0 45.0,19.5 49.0,9.8 0.0,9.8" fill="#c00000"/>
<polygon transform="translate(1751.2,546.7) rotate(158.9)" points="0.0,-9.8 49.0,-9.8 45.0,-19.5 92.0,0.0 45.0,19.5 49.0,9.8 0.0,9.8" fill="#c00000"/>
<polygon transform="translate(1414.3,1057.6) rotate(-113.4)" points="0.0,-9.8 49.0,-9.8 45.0,-19.5 92.0,0.0 45.0,19.5 49.0,9.8 0.0,9.8" fill="#c00000"/>
<g transform="translate(1389.7,1226.6)" fill="none" stroke="#d7141a" stroke-width="7">
<path d="M-21.43,11.88 A24.5,24.5 0 0 1 20.78,-12.98"/>
<path d="M23.67,-6.34 A24.5,24.5 0 0 1 -17.32,17.32"/>
<polyline points="-21.5,5.5 -8.2,-5.8 1.3,4.6 6.0,-10.6 25,-7.3" stroke-width="5.8" stroke-linejoin="miter"/>
</g>
<path d="M1399.0,1276.8 L1980.3,1276.8 C1975.3,1279.3 1972.3,1281.8 1970.7,1283.7 C1965.8,1287.8 1963.8,1300.8 1960.3,1310.8 C1957.3,1318.8 1952.3,1323 1942.6,1323 L1436.7,1323 C1427.0,1323 1422.0,1318.8 1419.0,1310.8 C1415.5,1300.8 1413.5,1287.8 1408.6,1283.7 C1407.0,1281.8 1404.0,1279.3 1399.0,1276.8Z" fill="url(#rb1)"/><path d="M1399.0,1276.8 C1395.5,1276.8 1392.5,1279.3 1391.0,1283.7 L1408.6,1283.7 C1407.0,1281.8 1404.0,1279.3 1399.0,1276.8Z" fill="#2f7169"/><path d="M1399.0,1276.8 C1395.5,1276.8 1392.5,1279.3 1391.0,1283.7 L1399.0,1283.7 C1399.0,1280.8 1399.0,1278.8 1399.0,1276.8Z" fill="#1f4f4c" opacity="0.55"/><path d="M1980.3,1276.8 C1983.8,1276.8 1986.8,1279.3 1988.3,1283.7 L1970.7,1283.7 C1972.3,1281.8 1975.3,1279.3 1980.3,1276.8Z" fill="#2f7169"/><path d="M1980.3,1276.8 C1983.8,1276.8 1986.8,1279.3 1988.3,1283.7 L1980.3,1283.7 C1980.3,1280.8 1980.3,1278.8 1980.3,1276.8Z" fill="#1f4f4c" opacity="0.55"/>
<path d="M1399.0,1337.9 L1980.3,1337.9 C1975.3,1340.4 1972.3,1342.9 1970.7,1344.8 C1965.8,1348.9 1963.8,1361.9 1960.3,1371.9 C1957.3,1379.9 1952.3,1384 1942.6,1384 L1436.7,1384 C1427.0,1384 1422.0,1379.9 1419.0,1371.9 C1415.5,1361.9 1413.5,1348.9 1408.6,1344.8 C1407.0,1342.9 1404.0,1340.4 1399.0,1337.9Z" fill="url(#rb2)"/><path d="M1399.0,1337.9 C1395.5,1337.9 1392.5,1340.4 1391.0,1344.8 L1408.6,1344.8 C1407.0,1342.9 1404.0,1340.4 1399.0,1337.9Z" fill="#6c7b3c"/><path d="M1399.0,1337.9 C1395.5,1337.9 1392.5,1340.4 1391.0,1344.8 L1399.0,1344.8 C1399.0,1341.9 1399.0,1339.9 1399.0,1337.9Z" fill="#48542a" opacity="0.55"/><path d="M1980.3,1337.9 C1983.8,1337.9 1986.8,1340.4 1988.3,1344.8 L1970.7,1344.8 C1972.3,1342.9 1975.3,1340.4 1980.3,1337.9Z" fill="#6c7b3c"/><path d="M1980.3,1337.9 C1983.8,1337.9 1986.8,1340.4 1988.3,1344.8 L1980.3,1344.8 C1980.3,1341.9 1980.3,1339.9 1980.3,1337.9Z" fill="#48542a" opacity="0.55"/>
<path d="M1399.0,1399.3 L1980.3,1399.3 C1975.3,1401.8 1972.3,1404.3 1970.7,1406.2 C1965.8,1410.3 1963.8,1423.3 1960.3,1433.3 C1957.3,1441.3 1952.3,1445.2 1942.6,1445.2 L1436.7,1445.2 C1427.0,1445.2 1422.0,1441.3 1419.0,1433.3 C1415.5,1423.3 1413.5,1410.3 1408.6,1406.2 C1407.0,1404.3 1404.0,1401.8 1399.0,1399.3Z" fill="url(#rb3)"/><path d="M1399.0,1399.3 C1395.5,1399.3 1392.5,1401.8 1391.0,1406.2 L1408.6,1406.2 C1407.0,1404.3 1404.0,1401.8 1399.0,1399.3Z" fill="#2a5876"/><path d="M1399.0,1399.3 C1395.5,1399.3 1392.5,1401.8 1391.0,1406.2 L1399.0,1406.2 C1399.0,1403.3 1399.0,1401.3 1399.0,1399.3Z" fill="#1a3248" opacity="0.55"/><path d="M1980.3,1399.3 C1983.8,1399.3 1986.8,1401.8 1988.3,1406.2 L1970.7,1406.2 C1972.3,1404.3 1975.3,1401.8 1980.3,1399.3Z" fill="#2a5876"/><path d="M1980.3,1399.3 C1983.8,1399.3 1986.8,1401.8 1988.3,1406.2 L1980.3,1406.2 C1980.3,1403.3 1980.3,1401.3 1980.3,1399.3Z" fill="#1a3248" opacity="0.55"/>
<path d="M1397.5,1461.7 L1985.5,1461.7 C1980.5,1464.2 1977.5,1466.7 1975.9,1468.6 C1971.0,1472.7 1969.0,1485.7 1965.5,1495.7 C1962.5,1503.7 1957.5,1508.3 1947.8,1508.3 L1435.2,1508.3 C1425.5,1508.3 1420.5,1503.7 1417.5,1495.7 C1414.0,1485.7 1412.0,1472.7 1407.1,1468.6 C1405.5,1466.7 1402.5,1464.2 1397.5,1461.7Z" fill="url(#rb4)"/><path d="M1397.5,1461.7 C1394.0,1461.7 1391.0,1464.2 1389.5,1468.6 L1407.1,1468.6 C1405.5,1466.7 1402.5,1464.2 1397.5,1461.7Z" fill="#36457f"/><path d="M1397.5,1461.7 C1394.0,1461.7 1391.0,1464.2 1389.5,1468.6 L1397.5,1468.6 C1397.5,1465.7 1397.5,1463.7 1397.5,1461.7Z" fill="#20274d" opacity="0.55"/><path d="M1985.5,1461.7 C1989.0,1461.7 1992.0,1464.2 1993.5,1468.6 L1975.9,1468.6 C1977.5,1466.7 1980.5,1464.2 1985.5,1461.7Z" fill="#36457f"/><path d="M1985.5,1461.7 C1989.0,1461.7 1992.0,1464.2 1993.5,1468.6 L1985.5,1468.6 C1985.5,1465.7 1985.5,1463.7 1985.5,1461.7Z" fill="#20274d" opacity="0.55"/>
<text x="1697" y="1310" class="shs" font-weight="500" fill="#fff" text-anchor="middle" style="font-feature-settings:'palt'" font-size="28" letter-spacing="2.4">中国国际模具技术和设备展览会</text>
<text x="1690" y="1372" class="shs" font-weight="500" fill="#fff" text-anchor="middle" style="font-feature-settings:'palt'" font-size="28" letter-spacing="1.5">上海国际低碳智慧出行展（新能源汽车）</text>
<text x="1690.5" y="1434" class="shs" font-weight="500" fill="#fff" text-anchor="middle" style="font-feature-settings:'palt'" font-size="28" letter-spacing="1.3">上海国际碳中和技术、产品与成果博览会</text>
<text x="1701" y="1497" class="shs" font-weight="500" fill="#fff" text-anchor="middle" style="font-feature-settings:'palt'" font-size="28" letter-spacing="2">半导体展SEMICON</text>
<rect x="2046" y="1324.7" width="220" height="86.8" rx="18" fill="#ff8205"/>
<text x="2156.5" y="1362" class="shs" font-weight="900" font-style="italic" fill="#fff" text-anchor="middle" font-size="31" letter-spacing="2.5">三展联动</text>
<text x="2156.5" y="1402.5" class="shs" font-weight="900" font-style="italic" fill="#fff" text-anchor="middle" font-size="31" letter-spacing="2.5">四展结合</text>
<text x="2156.8" y="1444" class="shs" font-weight="bold" fill="#000" text-anchor="middle" font-size="24" letter-spacing="0.68">NH /3H/4.1H</text>
<text x="2156.3" y="1476.7" class="shs" font-weight="bold" fill="#000" text-anchor="middle" font-size="24" letter-spacing="0.65">5.1H/6.1H/7.1H/8.1H</text>
<text x="2149" y="1506.7" class="shs" font-weight="bold" fill="#000" text-anchor="middle" font-size="24" letter-spacing="0.6">1H/2H</text>
</svg></body></html>
